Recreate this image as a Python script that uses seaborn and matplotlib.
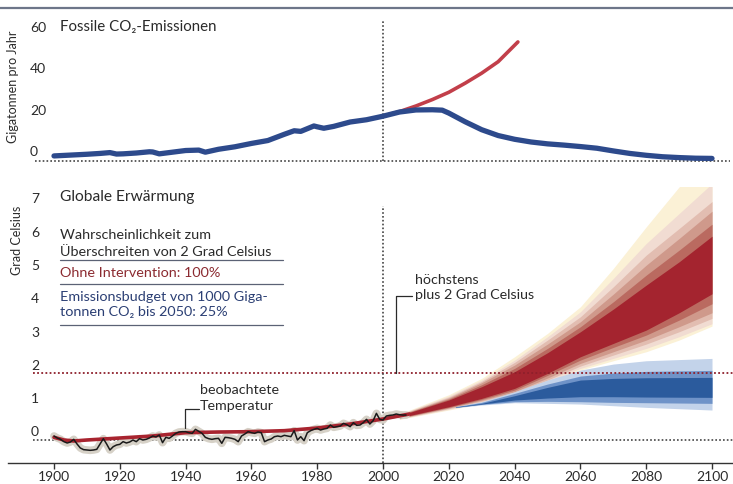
import matplotlib
matplotlib.use("Agg")
import matplotlib.pyplot as plt
from matplotlib import transforms
from matplotlib.lines import Line2D
import seaborn as sns
import pandas as pd

# ---------------- data ----------------
# Fossil CO2 emissions (Gt per year)
em_years = [1900, 1905, 1910, 1912, 1914, 1917, 1919, 1921, 1925, 1929, 1930, 1932, 1935,
            1940, 1944, 1946, 1950, 1955, 1960, 1965, 1970, 1973, 1975, 1979, 1980, 1982,
            1985, 1990, 1995, 2000, 2005, 2010, 2015, 2018, 2020, 2025, 2030, 2035, 2040,
            2045, 2050, 2055, 2060, 2065, 2070, 2075, 2080, 2085, 2090, 2095, 2100]
em_budget = [2.2, 2.6, 3.0, 3.2, 3.4, 3.8, 3.1, 3.2, 3.6, 4.2, 4.1, 3.2, 3.8,
             4.8, 5.0, 4.0, 5.4, 6.6, 8.2, 9.6, 12.6, 14.3, 14.0, 16.6, 16.2, 15.5,
             16.4, 18.5, 19.6, 21.3, 23.3, 24.3, 24.4, 24.2, 22.8, 18.6, 14.8, 12.0, 10.2,
             8.9, 8.0, 7.4, 6.7, 5.9, 4.6, 3.4, 2.5, 1.8, 1.4, 1.1, 1.0]
bau_years = [2000, 2005, 2010, 2015, 2020, 2025, 2030, 2035, 2041]
bau_values = [21.3, 23.5, 26.2, 29.3, 32.8, 37.2, 42.0, 47.5, 57.0]

# Observed temperature (deg C), 1900-2007
obs_years = list(range(1900, 2008))
obs_temp = [0.12, 0.06, 0.02, -0.05, -0.09, -0.06, 0.02, -0.12, -0.24, -0.29,
            -0.30, -0.31, -0.30, -0.28, -0.12, 0.04, -0.12, -0.30, -0.20, -0.15,
            -0.13, -0.05, -0.09, -0.06, 0.00, -0.05, 0.04, 0.00, 0.02, 0.06,
            0.12, 0.09, 0.15, -0.08, 0.08, 0.05, 0.12, 0.20, 0.24, 0.25,
            0.25, 0.22, 0.20, 0.32, 0.26, 0.20, 0.08, 0.04, 0.02, 0.04,
            0.05, -0.10, 0.08, 0.07, 0.05, 0.02, -0.05, 0.12, 0.18, 0.25,
            0.22, 0.20, 0.24, 0.22, -0.05, 0.00, 0.03, 0.10, 0.12, 0.10,
            0.14, 0.12, 0.10, 0.28, 0.00, 0.10, -0.02, 0.22, 0.28, 0.32,
            0.35, 0.30, 0.33, 0.35, 0.45, 0.38, 0.40, 0.42, 0.50, 0.46,
            0.40, 0.52, 0.44, 0.45, 0.52, 0.62, 0.48, 0.58, 0.80, 0.62,
            0.60, 0.72, 0.74, 0.75, 0.78, 0.76, 0.75, 0.75]

# Modelled temperature (smooth red line)
model_years = [1900, 1903, 1906, 1910, 1920, 1930, 1940, 1950, 1960, 1970, 1980, 1990, 2000, 2008]
model_temp = [0.08, 0.0, -0.03, 0.0, 0.06, 0.12, 0.22, 0.24, 0.25, 0.28, 0.36, 0.48, 0.63, 0.78]

# Projection without intervention (red fan), outer -> inner band
fan_years = [2005, 2020, 2030, 2040, 2050, 2060, 2070, 2080, 2090, 2100]
red1_hi = [0.78, 1.36, 1.85, 2.50, 3.20, 4.00, 5.15, 6.40, 7.60, 8.80]
red1_lo = [0.62, 0.90, 1.10, 1.33, 1.70, 2.10, 2.38, 2.65, 3.00, 3.42]
red2_hi = [0.77, 1.32, 1.80, 2.40, 3.10, 3.85, 4.85, 5.90, 6.80, 7.70]
red2_lo = [0.63, 0.92, 1.13, 1.37, 1.75, 2.15, 2.45, 2.75, 3.10, 3.49]
red3_hi = [0.76, 1.29, 1.76, 2.33, 3.00, 3.70, 4.60, 5.55, 6.35, 7.16]
red3_lo = [0.64, 0.94, 1.16, 1.41, 1.80, 2.22, 2.55, 2.88, 3.25, 3.65]
red4_hi = [0.75, 1.26, 1.72, 2.25, 2.88, 3.55, 4.38, 5.25, 6.05, 6.87]
red4_lo = [0.65, 0.96, 1.19, 1.45, 1.86, 2.30, 2.65, 3.00, 3.40, 3.82]
red5_hi = [0.74, 1.23, 1.66, 2.15, 2.75, 3.40, 4.15, 4.95, 5.70, 6.48]
red5_lo = [0.66, 0.98, 1.22, 1.50, 1.94, 2.40, 2.78, 3.15, 3.60, 4.09]
red6_hi = [0.73, 1.20, 1.60, 2.05, 2.62, 3.25, 3.93, 4.65, 5.35, 6.12]
red6_lo = [0.67, 1.00, 1.25, 1.55, 2.00, 2.50, 2.90, 3.30, 3.82, 4.39]

# Projection with emission budget (blue fan), outer -> inner band
blue_years = [2022, 2030, 2040, 2050, 2060, 2070, 2080, 2100]
blue1_hi = [1.00, 1.15, 1.45, 1.80, 2.10, 2.28, 2.38, 2.45]
blue1_lo = [0.97, 1.05, 1.12, 1.10, 1.08, 1.03, 0.98, 0.90]
blue2_hi = [1.00, 1.13, 1.40, 1.68, 1.92, 2.01, 2.06, 2.09]
blue2_lo = [0.98, 1.07, 1.15, 1.16, 1.15, 1.13, 1.12, 1.10]
blue3_hi = [0.99, 1.10, 1.33, 1.58, 1.80, 1.85, 1.87, 1.88]
blue3_lo = [0.98, 1.08, 1.20, 1.26, 1.30, 1.30, 1.29, 1.28]

x_ticks = [1900, 1920, 1940, 1960, 1980, 2000, 2020, 2040, 2060, 2080, 2100]
top_ticks = [0, 20, 40, 60]
bot_ticks = [0, 1, 2, 3, 4, 5, 6, 7]

# ---------------- style ----------------
sns.set_theme(style="white")
plt.rcParams["font.family"] = ["Lato", "DejaVu Sans"]
TXT = "#2a2a2a"
DOT = (0, (1, 1.3))

W, H = 733, 484
fig = plt.figure(figsize=(W / 100, H / 100), dpi=100)
fig.patch.set_facecolor("white")


def px2year(px):
    return 1900 + (px - 54) / 3.29


def fx(px):
    return px / W


def fy(py):
    return 1 - py / H


XLIM = (px2year(0), px2year(W))

# top panel: value 0 at py 160.5, 2.08 px per Gt
ax_top = fig.add_axes([0, (H - 170) / H, 1, (170 - 12) / H])
ax_top.set_xlim(*XLIM)
ax_top.set_ylim((160.5 - 170) / 2.08, (160.5 - 12) / 2.08)
# bottom panel: value 0 at py 440, 33.3 px per degree
ax_bot = fig.add_axes([0, (H - 463) / H, 1, (463 - 187) / H])
ax_bot.set_xlim(*XLIM)
ax_bot.set_ylim(-23 / 33.3, 253 / 33.3)

for ax in (ax_top, ax_bot):
    ax.set_facecolor("none")
    for s in ax.spines.values():
        s.set_visible(False)
    ax.set_yticks([])
    ax.grid(False)
ax_top.set_xticks([])

# ---------- top panel ----------
ax_top.hlines(-0.25, px2year(35), px2year(730), colors="#444444", linestyles=DOT, lw=1.2)
ax_top.vlines(2000, -0.25, (160.5 - 20) / 2.08, colors="#444444", linestyles=DOT, lw=1.2)
sns.lineplot(x=bau_years, y=bau_values, ax=ax_top, color="#c23f4a", lw=2.6,
             estimator=None, sort=False, legend=False)
sns.lineplot(x=em_years, y=em_budget, ax=ax_top, color="#2d4a8c", lw=3.8,
             estimator=None, sort=False, legend=False)
tt = transforms.offset_copy(ax_top.transData, fig=fig, x=0, y=8, units="dots")
for v in top_ticks:
    ax_top.text(px2year(30), v, str(v), transform=tt, ha="left", va="center",
                fontsize=10, color=TXT)

# ---------- bottom panel ----------
red_cols = ["#fbf1d6", "#f1dcd2", "#e2bdb1", "#cf998b", "#ba6a60", "#a4242f"]
red_bands = [(red1_lo, red1_hi), (red2_lo, red2_hi), (red3_lo, red3_hi),
             (red4_lo, red4_hi), (red5_lo, red5_hi), (red6_lo, red6_hi)]
for (lo, hi), c in zip(red_bands, red_cols):
    ax_bot.fill_between(fan_years, lo, hi, color=c, lw=0)
blue_cols = ["#c3d3ea", "#6f93c8", "#2b5b9d"]
blue_bands = [(blue1_lo, blue1_hi), (blue2_lo, blue2_hi), (blue3_lo, blue3_hi)]
for (lo, hi), c in zip(blue_bands, blue_cols):
    ax_bot.fill_between(blue_years, lo, hi, color=c, lw=0)

ax_bot.hlines(0, px2year(33), px2year(733), colors="#444444", linestyles=DOT, lw=1.2)
ax_bot.hlines(2, px2year(33), px2year(733), colors="#8e1f2b", linestyles=DOT, lw=1.3)
ax_bot.vlines(2000, ax_bot.get_ylim()[0], (440 - 206) / 33.3, colors="#444444",
              linestyles=DOT, lw=1.2)

obs = pd.DataFrame({"year": obs_years, "temp": obs_temp})
sns.lineplot(data=obs, x="year", y="temp", ax=ax_bot, color="#d6d1c7", lw=5.5,
             estimator=None, sort=False, legend=False)
sns.lineplot(x=model_years, y=model_temp, ax=ax_bot, color="#a8242f", lw=2.6,
             estimator=None, sort=False, legend=False)
sns.lineplot(data=obs, x="year", y="temp", ax=ax_bot, color="#1a1a1a", lw=1.1,
             estimator=None, sort=False, legend=False)

tb = transforms.offset_copy(ax_bot.transData, fig=fig, x=0, y=7.5, units="dots")
for v in bot_ticks:
    ax_bot.text(px2year(31), v, str(v), transform=tb, ha="left", va="center",
                fontsize=10, color=TXT)

ax_bot.spines["bottom"].set_visible(True)
ax_bot.spines["bottom"].set_color("#333333")
ax_bot.spines["bottom"].set_linewidth(1.0)
ax_bot.spines["bottom"].set_bounds(px2year(8), XLIM[1])
ax_bot.set_xticks(x_ticks)
ax_bot.set_xticklabels([str(t) for t in x_ticks], fontsize=10, color=TXT)
ax_bot.tick_params(axis="x", direction="out", length=4, width=1, color="#333333", pad=2,
                   bottom=True)
ax_bot.set_xlabel("")
ax_bot.set_ylabel("")
ax_top.set_xlabel("")
ax_top.set_ylabel("")

# ---------- texts ----------
fig.add_artist(Line2D([0, 1], [fy(8), fy(8)], transform=fig.transFigure,
                      color="#6d7689", lw=1.6))
fig.text(fx(13), fy(87), "Gigatonnen pro Jahr", rotation=90, ha="center", va="center",
         fontsize=9, color=TXT)
fig.text(fx(17), fy(240), "Grad Celsius", rotation=90, ha="center", va="center",
         fontsize=9, color=TXT)
fig.text(fx(60), fy(27), "Fossile CO₂-Emissionen", ha="left", va="center",
         fontsize=10.8, color=TXT)
fig.text(fx(60), fy(197), "Globale Erwärmung", ha="left", va="center",
         fontsize=11.2, color=TXT)

BOX = 10.4
fig.text(fx(60), fy(235), "Wahrscheinlichkeit zum", ha="left", va="center",
         fontsize=BOX, color=TXT)
fig.text(fx(60), fy(252), "Überschreiten von 2 Grad Celsius", ha="left", va="center",
         fontsize=BOX, color=TXT)
fig.text(fx(60), fy(273), "Ohne Intervention: 100%", ha="left", va="center",
         fontsize=BOX, color="#8b2a30")
fig.text(fx(60), fy(297), "Emissionsbudget von 1000 Giga-", ha="left", va="center",
         fontsize=BOX, color="#2b3f74")
fig.text(fx(60), fy(312), "tonnen CO₂ bis 2050: 25%", ha="left", va="center",
         fontsize=BOX, color="#2b3f74")
for py in (260, 284, 325):
    fig.add_artist(Line2D([fx(60), fx(283)], [fy(py), fy(py)], transform=fig.transFigure,
                          color="#5b6275", lw=0.9))

ANN = 10.3
fig.text(fx(200), fy(390), "beobachtete", ha="left", va="center", fontsize=ANN, color=TXT)
fig.text(fx(200), fy(406), "Temperatur", ha="left", va="center", fontsize=ANN, color=TXT)
fig.add_artist(Line2D([fx(185), fx(185), fx(199)], [fy(428), fy(409), fy(409)],
                      transform=fig.transFigure, color=TXT, lw=0.9))

fig.text(fx(415), fy(280), "höchstens", ha="left", va="center", fontsize=ANN, color=TXT)
fig.text(fx(415), fy(295), "plus 2 Grad Celsius", ha="left", va="center", fontsize=ANN,
         color=TXT)
fig.add_artist(Line2D([fx(396), fx(396), fx(412)], [fy(373), fy(296), fy(296)],
                      transform=fig.transFigure, color=TXT, lw=0.9))

fig.savefig("out.png", dpi=100, facecolor="white")
